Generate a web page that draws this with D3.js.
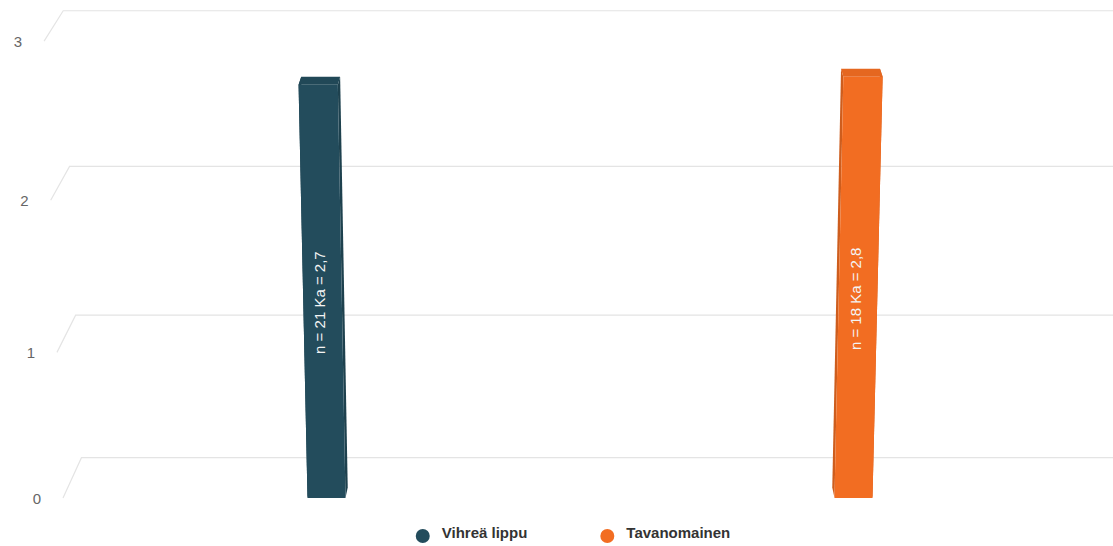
<!DOCTYPE html>
<html><head><meta charset="utf-8">
<script src="https://cdn.jsdelivr.net/npm/d3@7"></script>
<style>
body{margin:0;background:#fff;}
svg{display:block;font-family:"Liberation Sans",Arial,Helvetica,sans-serif;}
</style>
</head><body>
<svg id="chart" width="1113" height="546"></svg>
<script>
// ---- data ----
const categories = ["Vihreä lippu", "Tavanomainen"];
const seriesNames = ["Vihreä lippu", "Tavanomainen"];
const values = [2.73, 2.78];
const barLabels = ["n = 21 Ka = 2,7", "n = 18 Ka = 2,8"];
const yTicks = [0, 1, 2, 3];
const yMax = 3;

// ---- styles ----
const colors = ["#234c5c", "#f26d22"];

const svg = d3.select("#chart");

// ---- scales ----
const x = d3.scaleBand().domain(categories).range([63, 1117]).paddingInner(0).paddingOuter(0);
const yT = d3.scaleLinear().domain([0, yMax]).range([0, 1]);
const barWidth = 38;
const barDepth = 0.26;

// ---- simple 3D perspective projection (X world px, value, depth 0..1) ----
function P(X, v, z) {
  const t = yT(v);
  const yf = (498 - 459.5 * t) / (1 - 0.0641 * t);
  const g = 1 + (498 - yf) / 458 * 0.037;
  const xf = 575 + (X - 575) * g;
  return [xf + z * 0.035 * (590 - xf), yf - z * (29.5 + 0.0218 * yf)];
}
const poly = pts => "M" + pts.map(p => p.join(",")).join("L") + "Z";

// ---- gridlines (back wall + side wall) ----
const floorLeft = 63, floorRight = 1170;
const grid = svg.append("g").attr("fill", "none").attr("stroke", "#e4e4e4").attr("stroke-width", 1.2);
yTicks.forEach(v => {
  const a = P(floorLeft, v, 0), b = P(floorLeft, v, 1), c = P(floorRight, v, 1);
  grid.append("path").attr("d", `M${a}L${b}L${c}`);
});

// ---- y axis labels ----
svg.append("g").selectAll("text").data(yTicks).join("text")
  .attr("x", d => P(floorLeft, d, 0)[0] - 22)
  .attr("y", d => P(floorLeft, d, 0)[1])
  .attr("text-anchor", "end")
  .attr("dominant-baseline", "central")
  .attr("fill", "#666")
  .attr("font-size", 15)
  .text(d => d);

// ---- bars ----
const bars = svg.append("g");
categories.forEach((c, i) => {
  const v = values[i];
  const X0 = x(c) + x.bandwidth() / 2 - barWidth / 2;
  const X1 = X0 + barWidth;
  const col = d3.color(colors[i]);
  const g = bars.append("g");
  [X0, X1].forEach(Xs => {
    g.append("path")
      .attr("d", poly([P(Xs, 0, 0), P(Xs, v, 0), P(Xs, v, barDepth), P(Xs, 0, barDepth)]))
      .attr("fill", col.darker(0.45));
  });
  g.append("path")
    .attr("d", poly([P(X0, v, 0), P(X1, v, 0), P(X1, v, barDepth), P(X0, v, barDepth)]))
    .attr("fill", col.darker(0.15));
  g.append("path")
    .attr("d", poly([P(X0, 0, 0), P(X1, 0, 0), P(X1, v, 0), P(X0, v, 0)]))
    .attr("fill", col);
  const mid = P((X0 + X1) / 2, v / 2, 0);
  g.append("text")
    .attr("transform", `translate(${mid[0] - 3},${mid[1] + 5}) rotate(-90)`)
    .attr("text-anchor", "middle")
    .attr("dominant-baseline", "central")
    .attr("fill", "#f4f4f4")
    .attr("font-size", 15)
    .text(barLabels[i]);
});

// ---- legend ----
const legend = svg.append("g").attr("font-size", 15).attr("font-weight", "bold");
const r = 7, gap = 12, itemDistance = 73, legendCenter = 573, legendY = 538;
const items = seriesNames.map((n, i) => {
  const gi = legend.append("g");
  gi.append("circle").attr("r", r).attr("cx", r).attr("cy", -2).attr("fill", colors[i]);
  const t = gi.append("text").attr("x", 2 * r + gap).attr("y", 0)
    .attr("fill", "#333").text(n);
  return { g: gi, w: 2 * r + gap + t.node().getComputedTextLength() };
});
const total = d3.sum(items, d => d.w) + itemDistance * (items.length - 1);
let cx = legendCenter - total / 2;
items.forEach(it => {
  it.g.attr("transform", `translate(${cx},${legendY})`);
  cx += it.w + itemDistance;
});
</script>
</body></html>
